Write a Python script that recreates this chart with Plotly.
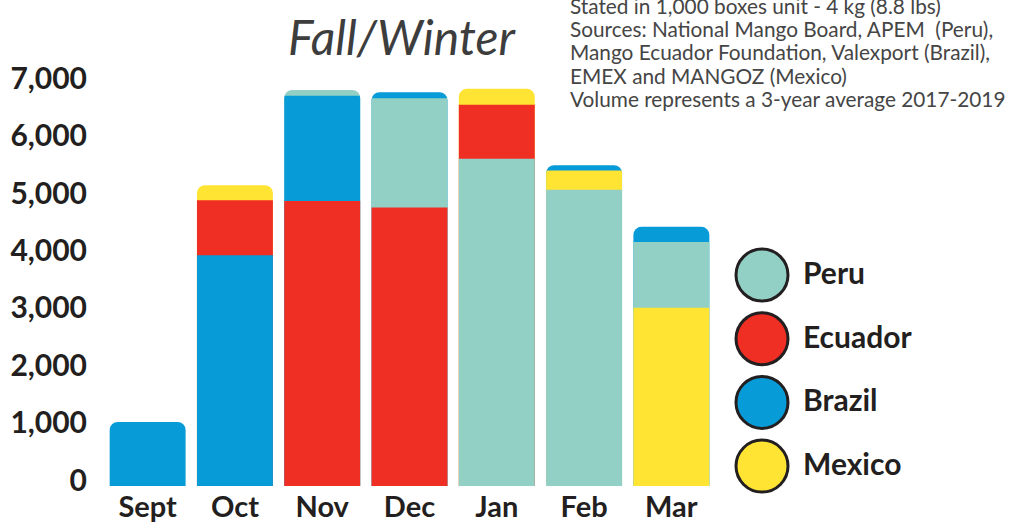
import plotly.graph_objects as go

# Monthly shipment volume, thousands of 4 kg boxes
months = ["Sept", "Oct", "Nov", "Dec", "Jan", "Feb", "Mar"]
peru = [0, 0, 100, 1905, 5700, 5160, 1145]
ecuador = [0, 960, 4965, 4850, 940, 0, 0]
brazil = [1115, 4020, 1835, 105, 0, 95, 265]
mexico = [0, 260, 0, 0, 280, 335, 3105]

countries = ["Peru", "Ecuador", "Brazil", "Mexico"]
colors = {"Peru": "#92D0C5", "Ecuador": "#EF2E24", "Brazil": "#079BD7", "Mexico": "#FFE434"}
series = {"Peru": peru, "Ecuador": ecuador, "Brazil": brazil, "Mexico": mexico}

ytick_vals = [0, 1000, 2000, 3000, 4000, 5000, 6000, 7000]
ytick_text = ["0", "1,000", "2,000", "3,000", "4,000", "5,000", "6,000", "7,000"]

note_lines = [
    "Stated in 1,000 boxes unit - 4 kg (8.8 lbs)",
    "Sources: National Mango Board, APEM  (Peru),",
    "Mango Ecuador Foundation, Valexport (Brazil),",
    "EMEX and MANGOZ (Mexico)",
    "Volume represents a 3-year average 2017-2019",
]

W, H = 1024, 523
M_L, M_R, M_T, M_B = 104, 309, 0, 37
plot_w = W - M_L - M_R
plot_h = H - M_T - M_B
px_per_unit = 0.0574  # pixels per thousand boxes


def px_x(x):
    return (x - M_L) / plot_w


def px_y(y):
    return (H - M_B - y) / plot_h


# Each month is stacked largest-first from the bottom; every segment is drawn as a
# rounded bar reaching its cumulative top, tallest at the back.
levels = [[] for _ in countries]
for i in range(len(months)):
    vals = sorted(((series[c][i], c) for c in countries), key=lambda t: -t[0])
    cum = 0
    for k, (v, c) in enumerate(vals):
        cum += v
        levels[k].append((cum if v > 0 else None, colors[c]))

fig = go.Figure()
for k in reversed(range(len(countries))):
    fig.add_trace(go.Bar(
        x=months,
        y=[t[0] for t in levels[k]],
        marker=dict(color=[t[1] for t in levels[k]], line=dict(width=0), cornerradius=8),
        showlegend=False,
        hoverinfo="skip",
    ))

fig.update_layout(
    width=W, height=H,
    margin=dict(l=M_L, r=M_R, t=M_T, b=M_B, pad=0, autoexpand=False),
    paper_bgcolor="white", plot_bgcolor="white",
    barmode="overlay", bargap=0.13,
    font=dict(family="Lato", color="#231F20"),
    showlegend=False,
)
fig.update_xaxes(
    automargin=False,
    showgrid=False, showline=False, zeroline=False, ticks="",
    tickfont=dict(family="Lato", size=29, weight="bold", color="#231F20"),
    range=[-0.5, 6.5], ticklabelstandoff=1,
)
fig.update_yaxes(
    automargin=False,
    showgrid=False, showline=False, zeroline=False, ticks="",
    range=[0, plot_h / px_per_unit],
    tickvals=ytick_vals, ticktext=ytick_text,
    tickfont=dict(family="Lato", size=30, weight="bold", color="#231F20"),
    ticklabelshift=-6, ticklabelstandoff=16,
)

# Title
fig.add_annotation(
    text="Fall/Winter", xref="paper", yref="paper",
    x=px_x(402), y=px_y(36),
    xanchor="center", yanchor="middle", showarrow=False,
    font=dict(family="Lato", size=48, style="italic", color="#3D3D3D"),
)

# Source notes, one line each
for j, line in enumerate(note_lines):
    fig.add_annotation(
        text=line, xref="paper", yref="paper",
        x=px_x(568), y=px_y(5 + j * 23.4),
        xanchor="left", yanchor="middle", showarrow=False,
        font=dict(family="Lato", size=20.8, color="#454545"),
    )

# Legend: outlined circles with bold labels
for j, c in enumerate(countries):
    yc = 275 + j * 63.7
    fig.add_shape(
        type="circle", xref="paper", yref="paper",
        xsizemode="pixel", ysizemode="pixel", xanchor=px_x(762), yanchor=px_y(yc),
        x0=-26, x1=26, y0=-26, y1=26,
        fillcolor=colors[c], line=dict(color="#231F20", width=3),
    )
    fig.add_annotation(
        text=c, xref="paper", yref="paper",
        x=px_x(801), y=px_y(yc - 3),
        xanchor="left", yanchor="middle", showarrow=False,
        font=dict(family="Lato", size=30, weight="bold", color="#231F20"),
    )

fig.write_html("out.html")
